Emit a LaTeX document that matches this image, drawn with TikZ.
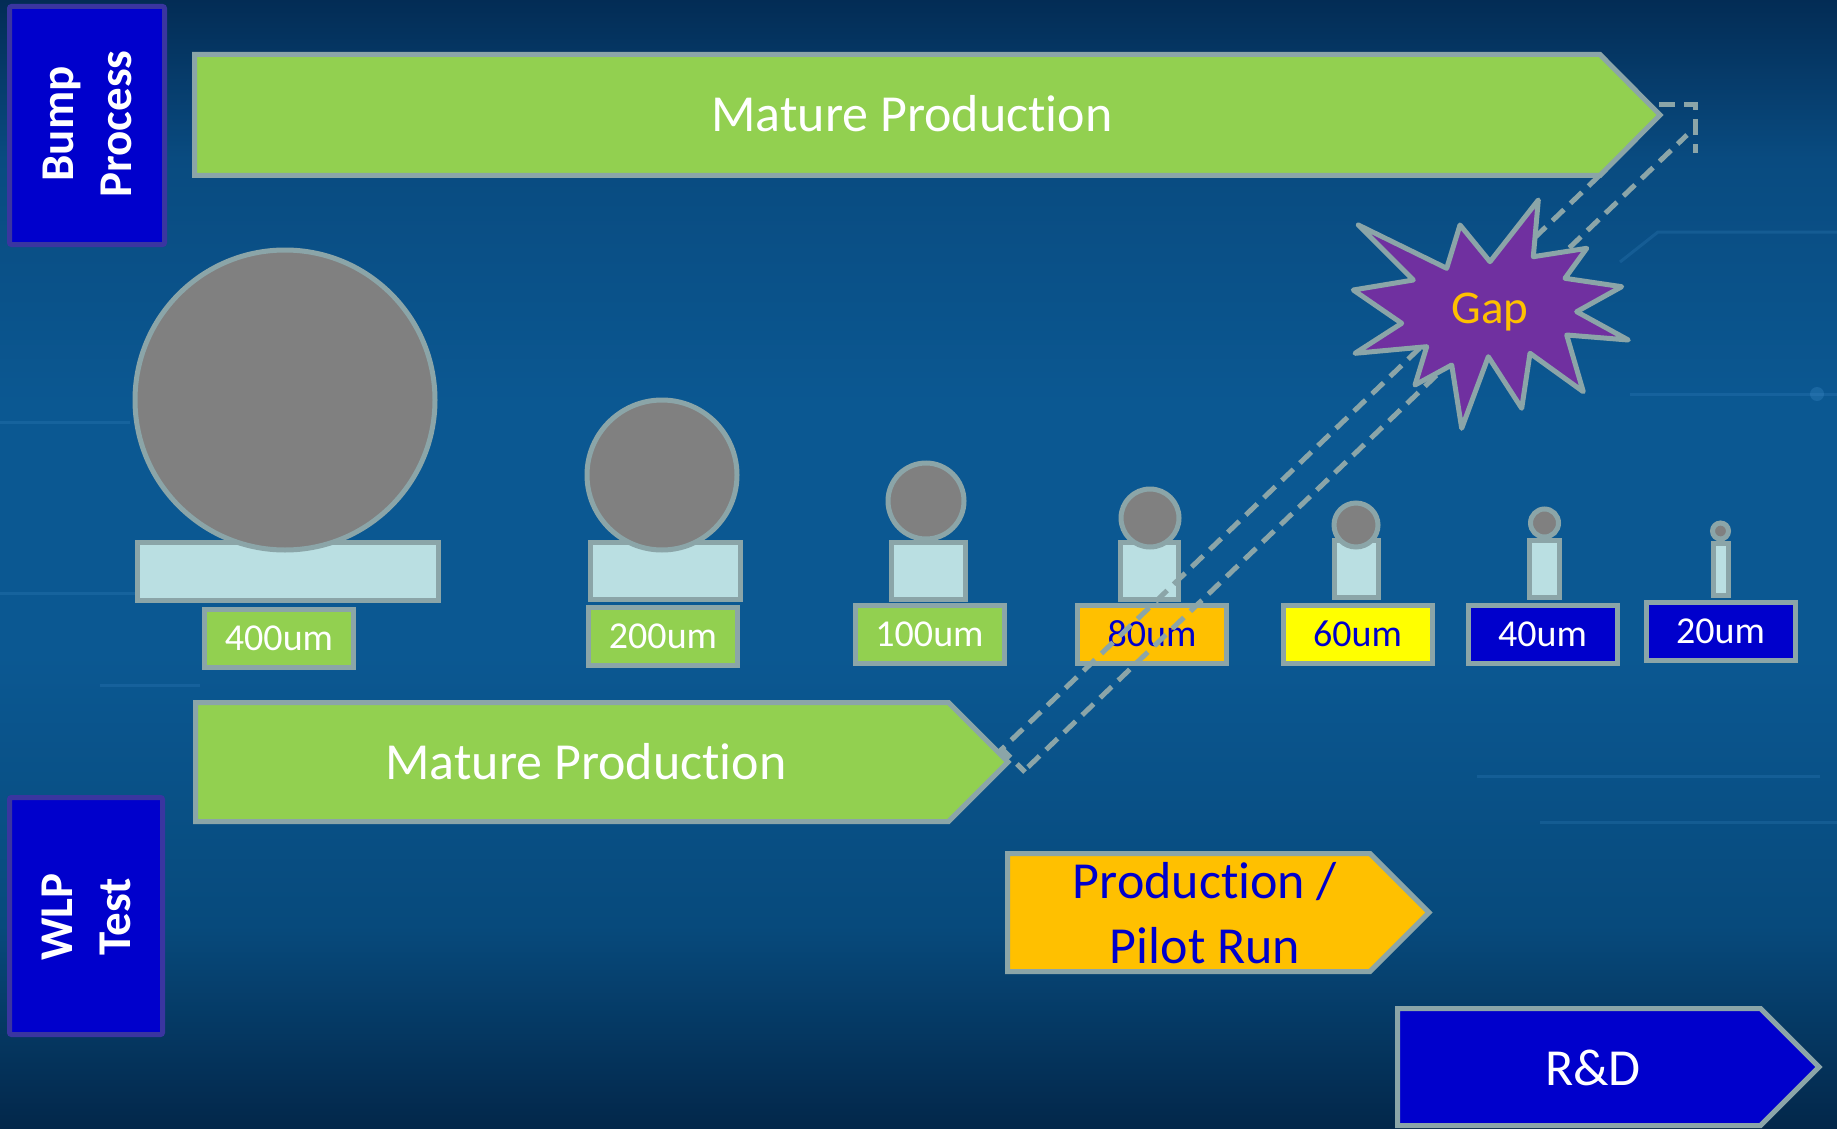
\documentclass[tikz,border=0pt]{standalone}
\usepackage{fontspec}
\setmainfont{Carlito}[Ligatures=NoCommon]
\definecolor{rim}{HTML}{8BA5A8}
\definecolor{leaf}{HTML}{92D050}
\definecolor{royal}{HTML}{0000CC}
\definecolor{amber}{HTML}{FFC000}
\definecolor{lemon}{HTML}{FFFF00}
\definecolor{padblue}{HTML}{BADFE2}
\definecolor{ball}{HTML}{808080}
\definecolor{plum}{HTML}{7030A0}
\definecolor{tagrim}{HTML}{3A35A0}
\definecolor{bgtop}{HTML}{032C55}
\definecolor{bgupper}{HTML}{094B80}
\definecolor{bgmid}{HTML}{0B5892}
\definecolor{bglower}{HTML}{074A7C}
\definecolor{bgbot}{HTML}{03274A}
\definecolor{streak}{HTML}{3F8CC8}
% vertical backdrop; TikZ stretches the 25bp--75bp band over the filled area
\pgfdeclareverticalshading{backdrop}{100bp}{
  color(0bp)=(bgbot); color(25bp)=(bgbot); color(34bp)=(bglower);
  color(46bp)=(bgmid); color(57bp)=(bgmid); color(68bp)=(bgupper);
  color(75bp)=(bgtop); color(100bp)=(bgtop)}
\begin{document}
\begin{tikzpicture}[x=1pt,y=-1pt,
  outline/.style={draw=rim, line width=5pt},
  band/.style={outline, line join=miter},
  sidetag/.style={draw=tagrim, line width=5pt, fill=royal, rounded corners=2pt},
  sidetext/.style={text=white, rotate=90, align=center,
    font=\fontsize{47}{58}\selectfont\bfseries},
  bigtext/.style={font=\fontsize{52}{65}\selectfont, inner sep=0pt},
  ballshape/.style={circle, outline, fill=ball, inner sep=0pt},
  padshape/.style={rectangle, outline, fill=padblue, inner sep=0pt},
  sizetag/.style={rectangle, outline, inner sep=0pt, minimum width=149pt,
    minimum height=58pt, font=\fontsize{38}{42}\selectfont},
  gapline/.style={draw=rim, line width=5pt, dash pattern=on 16pt off 9pt},
  glow/.style={draw=streak, line width=3pt, opacity=0.22}
]
\useasboundingbox (0,0) rectangle (1837,1129);

% backdrop
\shade[shading=backdrop] (0,0) rectangle (1837,1129);
\draw[glow] (0,422) -- (130,422);
\draw[glow] (0,593) -- (135,593);
\draw[glow] (100,685) -- (200,685);
\draw[glow] (1620,262) -- (1658,232) -- (1837,232);
\draw[glow] (1630,394) -- (1837,394);
\fill[streak, opacity=0.3] (1817,394) circle (7pt);
\draw[glow] (1477,776) -- (1820,776);
\draw[glow] (1540,822) -- (1837,822);

% side tags
\draw[sidetag] (9.5,6.5) rectangle (164.5,244.5);
\node[sidetext] (bump) at (87.5,124) {Bump\\Process};
\draw[sidetag] (9.5,797.5) rectangle (162.5,1034.5);
\node[sidetext] (wlp) at (86,917) {WLP\\Test};

% process arrows
\draw[band, fill=leaf] (194.5,54.5) -- (1600,54.5) -- (1660,115) -- (1600,175.5)
  -- (194.5,175.5) -- cycle;
\node[bigtext, text=white, anchor=base] (bumpmature) at (912,132) {Mature Production};

\draw[band, fill=leaf] (195.5,702.5) -- (948.5,702.5) -- (1008,762) -- (948.5,821.5)
  -- (195.5,821.5) -- cycle;
\node[bigtext, text=white, anchor=base] (testmature) at (586,779) {Mature Production};

\draw[band, fill=amber] (1007.5,853.5) -- (1370,853.5) -- (1429,912.5) -- (1370,971.5)
  -- (1007.5,971.5) -- cycle;
\node[bigtext, text=royal, align=center] (pilot) at (1205,913) {Production /\\Pilot Run};

\draw[band, fill=royal] (1397.5,1008.5) -- (1760.5,1008.5) -- (1819,1067) -- (1760.5,1125.5)
  -- (1397.5,1125.5) -- cycle;
\node[bigtext, text=white, anchor=base] (rd) at (1593,1085) {R\&D};

% bump pads
\node[padshape, minimum width=301pt, minimum height=58pt] (p400) at (288,571.5) {};
\node[padshape, minimum width=150pt, minimum height=57pt] (p200) at (665.5,571) {};
\node[padshape, minimum width=74pt, minimum height=57pt] (p100) at (928.5,571) {};
\node[padshape, minimum width=58pt, minimum height=57pt] (p80) at (1149.5,571) {};
\node[padshape, minimum width=44pt, minimum height=57pt] (p60) at (1356.5,569) {};
\node[padshape, minimum width=30pt, minimum height=57pt] (p40) at (1544.5,569) {};
\node[padshape, minimum width=15pt, minimum height=52pt] (p20) at (1721,569.5) {};

% solder balls
\node[ballshape, minimum size=300pt] (b400) at (285,400) {};
\node[ballshape, minimum size=150pt] (b200) at (662,475) {};
\node[ballshape, minimum size=76pt] (b100) at (926,501) {};
\node[ballshape, minimum size=58pt] (b80) at (1150,518) {};
\node[ballshape, minimum size=44pt] (b60) at (1356,525) {};
\node[ballshape, minimum size=28pt] (b40) at (1544.5,523) {};
\node[ballshape, minimum size=16pt] (b20) at (1720.5,531) {};

% pitch labels
\node[sizetag, fill=leaf, text=white] (t400) at (279,638.5) {400um};
\node[sizetag, fill=leaf, text=white] (t200) at (663,636.5) {200um};
\node[sizetag, fill=leaf, text=white] (t100) at (929.5,634) {100um};
\node[sizetag, fill=amber, text=royal] (t80) at (1152,634) {80um};
\node[sizetag, fill=lemon, text=royal] (t60) at (1357.5,634) {60um};
\node[sizetag, fill=royal, text=white] (t40) at (1542.5,634) {40um};
\node[sizetag, fill=royal, text=white] (t20) at (1720.5,631) {20um};

% dashed extension between the two mature arrows
\coordinate (lowA) at (1002,749);
\coordinate (lowB) at (1025,772);
\coordinate (lowC) at (1028,767);
\coordinate (upA) at (1600,175);
\coordinate (upB) at (1687,135);
\coordinate (capL) at (1659,105);
\coordinate (capC) at (1695,105);
\coordinate (capD) at (1695,153);
\draw[gapline] (upA) -- (lowA) -- (lowB);
\draw[gapline] (lowC) -- (upB);
\draw[gapline] (capL) -- (capC) -- (capD);

% gap burst
\draw[outline, fill=plum, line join=round]
  (1358.3,225) -- (1446.7,268.3) -- (1460,225) -- (1490,261.7) -- (1538.3,200)
  -- (1533.3,256.7) -- (1586.7,248.3) -- (1565,278.3) -- (1621.7,286.7)
  -- (1576.7,311.7) -- (1628.3,340) -- (1566.7,335) -- (1583.3,391.7)
  -- (1530,353.3) -- (1521.7,408.3) -- (1488.3,356.7) -- (1461.7,428.3)
  -- (1451.7,365) -- (1415,385) -- (1426.7,346.7) -- (1355,353.3)
  -- (1401.7,323.3) -- (1353.3,290) -- (1413.3,280) -- cycle;
\node[font=\fontsize{47}{56}\selectfont, text=amber, anchor=base, inner sep=0pt]
  (gap) at (1490,323) {Gap};
\end{tikzpicture}
\end{document}
